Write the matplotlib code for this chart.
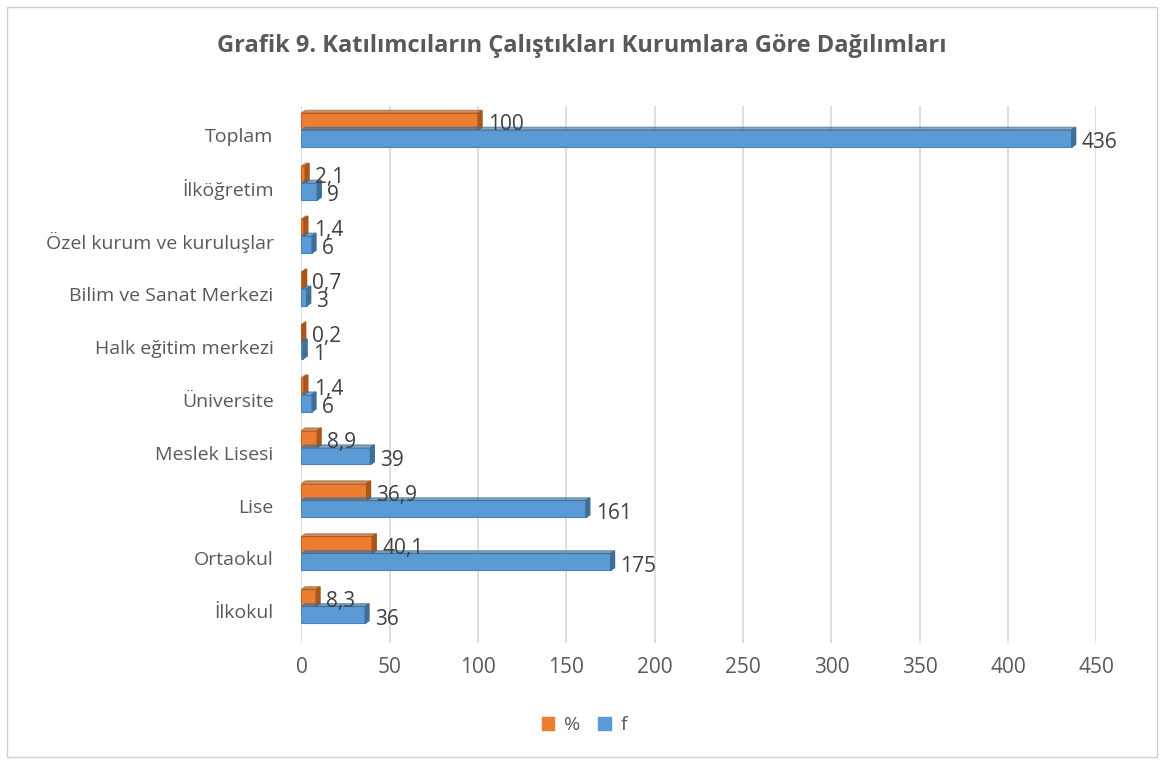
#grafik 9 - katilimcilarin calistiklari kurumlar
import matplotlib.pyplot as plt
import matplotlib.patches as mpatches
import numpy as np

plt.rcParams['font.family'] = ['Open Sans', 'DejaVu Sans']

#veriler (alttan uste)
kurumlar = ['İlkokul', 'Ortaokul', 'Lise', 'Meslek Lisesi', 'Üniversite',
            'Halk eğitim merkezi', 'Bilim ve Sanat Merkezi',
            'Özel kurum ve kuruluşlar', 'İlköğretim', 'Toplam']
f_deger = [36, 175, 161, 39, 6, 1, 3, 6, 9, 436]
yuzde = [8.3, 40.1, 36.9, 8.9, 1.4, 0.2, 0.7, 1.4, 2.1, 100]
yuzde_etiket = ['8,3', '40,1', '36,9', '8,9', '1,4', '0,2', '0,7', '1,4', '2,1', '100']
eksen = [0, 50, 100, 150, 200, 250, 300, 350, 400, 450]

turuncu = '#ED7D31'
mavi = '#5B9BD5'
yazi = '#595959'

fig = plt.figure(figsize=(11.64, 7.62), dpi=100)
fig.patches.append(mpatches.Rectangle((0.006, 0.006), 0.988, 0.985, transform=fig.transFigure,
                                      fill=False, edgecolor='#D0D0D0', linewidth=1))
ax = fig.add_axes([0.259, 0.156, 0.683, 0.705])

y = np.arange(len(kurumlar))
h = 0.32
kay = 0.095  # barlar etiketin biraz ustunde

ax.barh(y + kay + h / 2, yuzde, height=h, color=turuncu, edgecolor='#C7651F', linewidth=0.8, zorder=3)
ax.barh(y + kay - h / 2, f_deger, height=h, color=mavi, edgecolor='#4A84BA', linewidth=0.8, zorder=3)

#3d kapak (ucta koyu kenar)
for i in range(len(kurumlar)):
    for val, yc, c in [(yuzde[i], y[i] + kay + h / 2, '#A9561B'), (f_deger[i], y[i] + kay - h / 2, '#3F6E99')]:
        poly = mpatches.Polygon([(val, yc - h / 2), (val + 2.2, yc - h / 2 + 0.05),
                                 (val + 2.2, yc + h / 2 + 0.05), (val, yc + h / 2)],
                                closed=True, color=c, zorder=4)
        ax.add_patch(poly)
        top = mpatches.Polygon([(0, yc + h / 2), (2.2, yc + h / 2 + 0.05),
                                (val + 2.2, yc + h / 2 + 0.05), (val, yc + h / 2)],
                               closed=True, color=c, alpha=0.6, zorder=4)
        ax.add_patch(top)

#etiketler
for i in range(len(kurumlar)):
    ax.text(yuzde[i] + 5.5, y[i] + kay + 0.1, yuzde_etiket[i], va='center', ha='left',
            fontsize=15, color='#404040', zorder=5)
    ax.text(f_deger[i] + 5.5, y[i] + kay - 0.24, str(f_deger[i]), va='center', ha='left',
            fontsize=15, color='#404040', zorder=5)

ax.set_xlim(0, 450)
ax.set_ylim(-0.6, len(kurumlar) - 0.45)
ax.set_xticks(eksen)
ax.set_xticklabels([str(e) for e in eksen], fontsize=15, color=yazi)
ax.set_yticks(y)
ax.set_yticklabels(kurumlar, fontsize=14, color=yazi)
ax.tick_params(axis='both', length=0)
ax.tick_params(axis='x', pad=10)
ax.tick_params(axis='y', pad=20)
ax.xaxis.grid(True, color='#D9D9D9', linewidth=1.2, zorder=0)
ax.set_axisbelow(True)
for s in ax.spines.values():
    s.set_visible(False)

fig.text(0.5, 0.94, 'Grafik 9. Katılımcıların Çalıştıkları Kurumlara Göre Dağılımları',
         ha='center', va='center', fontsize=17, fontweight='bold', color=yazi)

fig.legend(handles=[mpatches.Patch(color=turuncu, label='%'), mpatches.Patch(color=mavi, label='f')],
           loc='center', bbox_to_anchor=(0.502, 0.048), ncol=2, frameon=False, fontsize=14,
           handlelength=0.65, handleheight=0.65, handletextpad=0.5, columnspacing=0.9,
           labelcolor=yazi)

fig.savefig('out.png', dpi=100)
